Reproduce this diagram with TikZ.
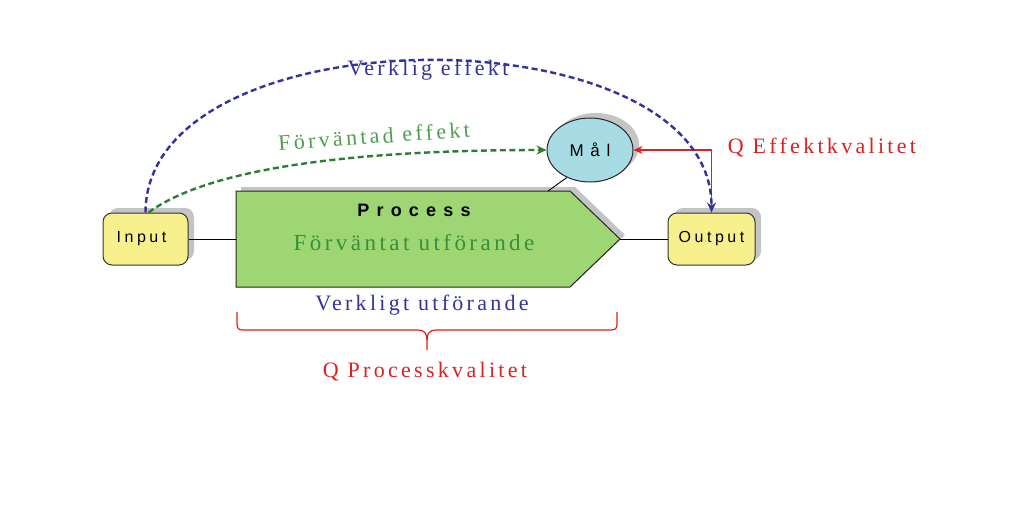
\documentclass[tikz,border=0pt]{standalone}
\usepackage{fontspec}
\setmainfont{Liberation Serif}
\newfontfamily\lsserif[LetterSpace=15]{Liberation Serif}
\newfontfamily\lssans[LetterSpace=22]{Liberation Sans}
\newfontfamily\lswide[LetterSpace=40]{Liberation Sans}
\usetikzlibrary{arrows.meta,shapes.geometric,shadows}
\definecolor{inyellow}{HTML}{F7F08C}
\definecolor{malcyan}{HTML}{A8DCE4}
\definecolor{procgreen}{HTML}{9DD672}
\definecolor{proctext}{HTML}{3A8F3A}
\definecolor{lblgreen}{HTML}{4E9E4E}
\definecolor{arrgreen}{HTML}{2E7D32}
\definecolor{dblue}{HTML}{333399}
\definecolor{qred}{HTML}{E02020}
\definecolor{shadowgray}{HTML}{C4C4C4}
\tikzset{
  grayshadow/.style={copy shadow={shadow xshift=6pt,shadow yshift=5pt,fill=shadowgray,draw=none}},
  iobox/.style={draw=black!80,line width=1pt,rounded corners=9pt,fill=inyellow,
    minimum height=52pt,inner sep=0pt,font=\lssans\fontsize{16}{18}\selectfont,grayshadow},
  serlabel/.style={font=\lsserif\fontsize{22}{26}\selectfont,inner sep=1pt},
  dashblue/.style={draw=dblue,line width=2.4pt,dash pattern=on 6pt off 3.5pt,-{Stealth[length=10pt,width=9pt]}},
  dashgreen/.style={draw=arrgreen,line width=2.4pt,dash pattern=on 6pt off 3.5pt,-{Stealth[length=10pt,width=9pt]}},
  redline/.style={draw=qred,line width=1.6pt},
  thinline/.style={draw=black,line width=0.9pt}
}
\begin{document}
\begin{tikzpicture}[x=1pt,y=-1pt]
\fill[white] (0,0) rectangle (1024,523);
\useasboundingbox (0,0) rectangle (1024,523);

% Process shape
\begin{scope}[shift={(5,-4)}]
\fill[shadowgray] (236,191) -- (570,191) -- (620,239) -- (570,287) -- (236,287) -- cycle;
\end{scope}
\filldraw[fill=procgreen,draw=black!85,line width=1pt] (236,191) -- (570,191) -- (620,239) -- (570,287) -- (236,287) -- cycle;
\coordinate (procW) at (236,239);
\coordinate (procE) at (620,239);
\coordinate (procTop) at (548,191);
\node[font=\lswide\fontsize{18}{20}\selectfont\bfseries] (proctitle) at (414,210) {Process};
\node[serlabel,text=proctext,font=\lsserif\fontsize{23}{26}\selectfont] (procsub) at (414,243) {Förväntat utförande};

% boxes
\node[iobox,minimum width=85pt] (input) at (145.5,239) {\hspace*{-8pt}Input};
\node[iobox,minimum width=87pt] (output) at (711.5,239) {Output};
\node[ellipse,draw=black!85,line width=1pt,fill=malcyan,minimum width=86pt,minimum height=64pt,inner sep=0pt,
  font=\lswide\fontsize{17}{18}\selectfont,grayshadow] (mal) at (590,150) {Mål};

% plain connectors
\draw[thinline] (input.east) -- (procW);
\draw[thinline] (procE) -- (output.west);
\draw[thinline] (mal.230) -- (procTop);

% red effect-quality connector
\draw[redline,{Stealth[length=9pt,width=8pt]}-] (mal.east) -- (mal.east -| output.north) -- (output.north);

% arcs
\draw[dashgreen] ([xshift=3pt]input.north) .. controls (220,160) and (400,150) .. (mal.west);
\draw[dashblue] (input.north) .. controls (146,10) and (712,10) .. (output.north);

% labels
\node[serlabel,text=dblue] (verklig) at (428,70) {Verklig effekt};
\node[serlabel,text=lblgreen,rotate=4] (forvantad) at (374,136) {Förväntad effekt};
\node[serlabel,text=qred] (qeffekt) at (822,148) {Q Effektkvalitet};
\node[serlabel,text=dblue] (verkligt) at (422,305) {Verkligt utförande};
\node[serlabel,text=qred] (qprocess) at (425,372) {Q Processkvalitet};

% brace
\draw[qred,line width=1.2pt] (237,312) -- (237,324) .. controls (237,329) and (239,330) .. (244,330)
  -- (418,330) .. controls (424,330) and (427,333) .. (427,340) -- (427,350);
\draw[qred,line width=1.2pt] (617,312) -- (617,324) .. controls (617,329) and (615,330) .. (610,330)
  -- (436,330) .. controls (430,330) and (427,333) .. (427,340);
\end{tikzpicture}
\end{document}
